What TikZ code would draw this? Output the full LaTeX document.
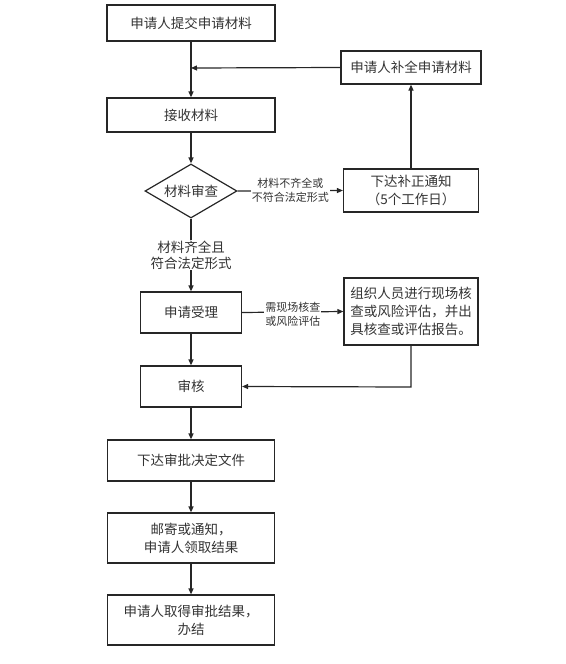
\documentclass[tikz,border=0pt]{standalone}
\usepackage{fontspec}
\setmainfont{Noto Sans CJK SC}
\usetikzlibrary{shapes.geometric,arrows.meta}
\begin{document}
\begin{tikzpicture}[x=1pt,y=-1pt,
  every node/.style={text=black!80, font=\fontsize{13.5}{18}\selectfont, inner sep=0pt},
  box/.style={draw=black!85, line width=1.2pt, rectangle, align=center},
  dia/.style={draw=black!85, line width=1.2pt, diamond, aspect=1.7, minimum width=92pt, minimum height=54pt},
  lbl/.style={fill=white, align=center, font=\fontsize{11}{14}\selectfont, inner sep=1pt},
  flow/.style={draw=black!85, line width=1.2pt, -{Triangle[length=6pt,width=5pt]}},
  seg/.style={draw=black!85, line width=1.2pt}]
\useasboundingbox (0,0) rectangle (565,664);
\node[box, minimum width=168pt, minimum height=36pt] (b1) at (191,23) {申请人提交申请材料};
\node[box, minimum width=140pt, minimum height=33pt] (bu) at (411,67.5) {申请人补全申请材料};
\node[box, minimum width=168pt, minimum height=34pt] (js) at (191,115) {接收材料};
\node[dia] (sc) at (191,191) {材料审查};
\node[box, minimum width=135pt, minimum height=43pt] (bz) at (411,190.5) {下达补正通知\\（5个工作日）};
\node[box, minimum width=101pt, minimum height=41pt] (sl) at (191,312.5) {申请受理};
\node[box, minimum width=134pt, minimum height=67pt, align=left] (zz) at (411,311.5) {组织人员进行现场核\\查或风险评估，并出\\具核查或评估报告。};
\node[box, minimum width=101pt, minimum height=41pt] (sh) at (191,386.5) {审核};
\node[box, minimum width=167pt, minimum height=41pt] (xd) at (191,460.5) {下达审批决定文件};
\node[box, minimum width=167pt, minimum height=50pt] (yj) at (191,538) {邮寄或通知，\\申请人领取结果};
\node[box, minimum width=167pt, minimum height=50pt] (qd) at (191,620) {申请人取得审批结果，\\办结};
\coordinate (m1) at (191,68);
\coordinate (m2) at (411,387);
% connectors
\draw[flow] (b1.south) -- (js.north);
\draw[flow] (bu.west) -- (m1);
\draw[flow] (js.south) -- (sc.north);
\draw[flow] (sc.east) -- node[lbl] (l1) {材料不齐全或\\不符合法定形式} (bz.west);
\draw[flow] (bz.north) -- (bu.south);
\draw[flow] (sc.south) -- node[lbl, font=\fontsize{13.5}{16}\selectfont] (l2) {材料齐全且\\符合法定形式} (sl.north);
\draw[flow] (sl.east) -- node[lbl, yshift=-2pt] (l3) {需现场核查\\或风险评估} (zz.west);
\draw[flow] (sl.south) -- (sh.north);
\draw[flow] (zz.south) -- (m2) -- (sh.east);
\draw[flow] (sh.south) -- (xd.north);
\draw[flow] (xd.south) -- (yj.north);
\draw[flow] (yj.south) -- (qd.north);
\end{tikzpicture}
\end{document}
